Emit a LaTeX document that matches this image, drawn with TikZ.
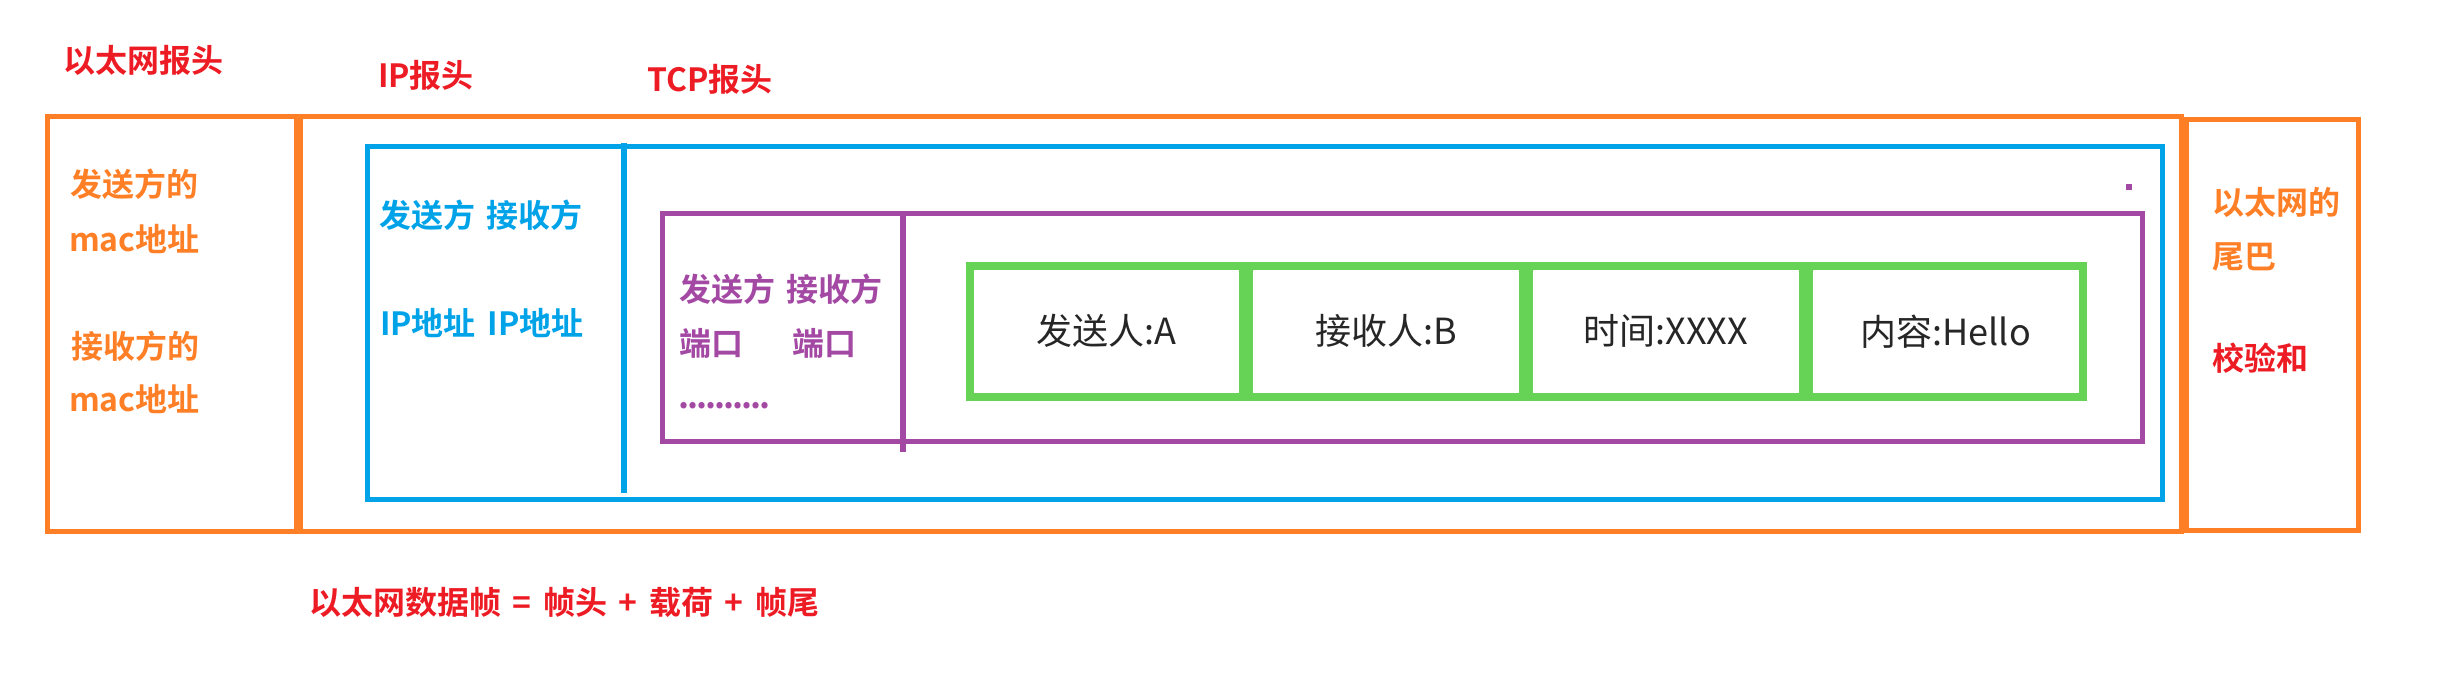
\documentclass[tikz,border=0pt]{standalone}
\usepackage{fontspec}
\setmainfont{Noto Sans CJK SC}
\newfontfamily\lblfont{Noto Sans CJK SC Bold}[WordSpace=1.6]
\newfontfamily\dotfont{Noto Sans CJK SC Bold}[LetterSpace=-6]
\newfontfamily\cellfont{Noto Sans CJK SC}
\definecolor{cred}{RGB}{237,28,36}
\definecolor{corange}{RGB}{255,127,39}
\definecolor{cblue}{RGB}{0,162,232}
\definecolor{cpurple}{RGB}{163,73,164}
\definecolor{cgreen}{RGB}{102,211,86}
\definecolor{ctext}{RGB}{38,38,38}
\tikzset{
  lbl/.style={inner sep=0pt, outer sep=0pt, anchor=base west, font=\lblfont\fontsize{32}{38}\selectfont},
  lblred/.style={lbl, text=cred},
  lblorange/.style={lbl, text=corange},
  lblblue/.style={lbl, text=cblue},
  lblpurple/.style={lbl, text=cpurple},
  framebox/.style={line width=5pt},
  cell/.style={draw=cgreen, line width=8pt, minimum width=273.75pt, minimum height=131.5pt,
    inner sep=0pt, text=ctext, font=\cellfont\fontsize{36}{42}\selectfont},
}
\begin{document}
\begin{tikzpicture}[x=1pt,y=-1pt]
\useasboundingbox (0,0) rectangle (2444,686);
% Ethernet frame
\draw[framebox, corange] (47,116) rectangle (2181,531);
\draw[corange, line width=9pt] (298,114) -- (298,534);
\draw[framebox, corange] (2186,119) rectangle (2358,530);
% IP
\draw[framebox, cblue] (367,146.5) rectangle (2162.5,499.5);
\draw[cblue, line width=6pt] (623.5,143) -- (623.5,493);
% TCP
\draw[framebox, cpurple] (662,213.5) rectangle (2142.5,441.5);
\draw[cpurple, line width=6pt] (903,211) -- (903,452);
\fill[cpurple] (2126,184) rectangle (2132,190);
% payload cells
\node[cell] (c1) at (1106.4,331.25) {发送人:A};
\node[cell] (c2) at (1386.1,331.25) {接收人:B};
\node[cell] (c3) at (1665.9,331.25) {时间:XXXX};
\node[cell] (c4) at (1945.6,331.25) {内容:Hello};
% headings
\node[lblred] (h1) at (63,72) {以太网报头};
\node[lblred] (h2) at (378,87) {IP报头};
\node[lblred] (h3) at (647,91) {TCP报头};
% ethernet header texts
\node[lblorange] (e1) at (70,196.5) {发送方的};
\node[lblorange] (e2) at (69,251.5) {mac地址};
\node[lblorange] (e3) at (71,358) {接收方的};
\node[lblorange] (e4) at (69,411) {mac地址};
% IP header texts
\node[lblblue] (i1) at (379,227) {发送方 接收方};
\node[lblblue] (i2) at (380,335) {IP地址 IP地址};
% TCP header texts
\node[lblpurple] (t1) at (679,301) {发送方 接收方};
\node[lblpurple] (t2) at (679,355) {端口\hspace{49pt}端口};
\node[lblpurple, font=\dotfont\fontsize{34}{38}\selectfont] (t3) at (678,408) {..........};
% trailer
\node[lblorange] (r1) at (2212,214) {以太网的};
\node[lblorange] (r2) at (2212,268.5) {尾巴};
\node[lblred] (r3) at (2212,370.5) {校验和};
% formula
\node[lblred] (f) at (309,614) {以太网数据帧 = 帧头 + 载荷 + 帧尾};
\end{tikzpicture}
\end{document}
